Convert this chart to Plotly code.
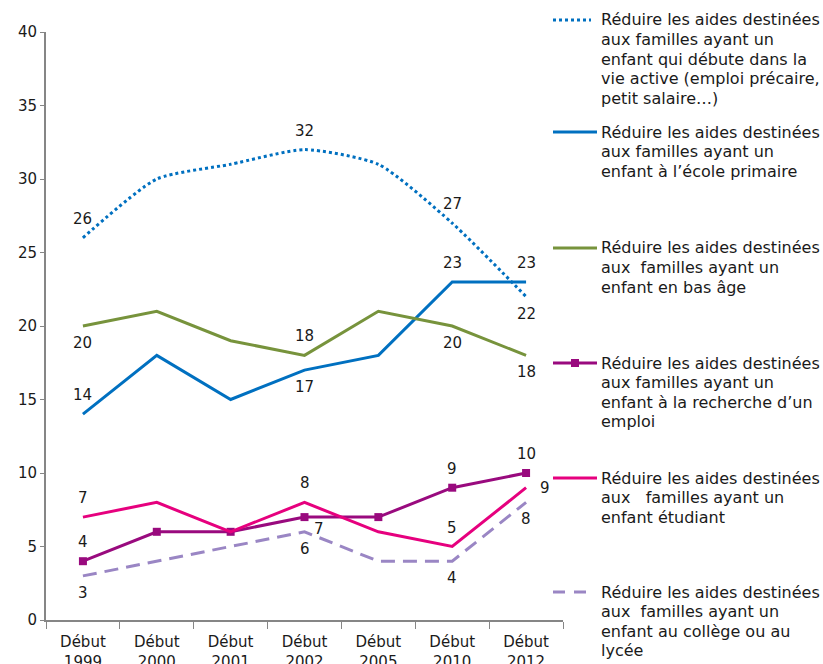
import plotly.graph_objects as go

categories = ["Début<br>1999", "Début<br>2000", "Début<br>2001", "Début<br>2002",
              "Début<br>2005", "Début<br>2010", "Début<br>2012"]

vie_active = [26, 30, 31, 32, 31, 27, 22]
ecole_primaire = [14, 18, 15, 17, 18, 23, 23]
bas_age = [20, 21, 19, 18, 21, 20, 18]
recherche_emploi = [4, 6, 6, 7, 7, 9, 10]
etudiant = [7, 8, 6, 8, 6, 5, 9]
college_lycee = [3, 4, 5, 6, 4, 4, 8]

y_ticks = [0, 5, 10, 15, 20, 25, 30, 35, 40]

names = [
    ["Réduire les aides destinées", "aux familles ayant un", "enfant qui débute dans la",
     "vie active (emploi précaire,", "petit salaire…)"],
    ["Réduire les aides destinées", "aux familles ayant un", "enfant à l’école primaire"],
    ["Réduire les aides destinées", "aux  familles ayant un", "enfant en bas âge"],
    ["Réduire les aides destinées", "aux familles ayant un", "enfant à la recherche d’un", "emploi"],
    ["Réduire les aides destinées", "aux   familles ayant un", "enfant étudiant"],
    ["Réduire les aides destinées", "aux  familles ayant un", "enfant au collège ou au", "lycée"],
]

# which points are labelled, and where (a = above, b = below, r = right, br = below-right)
labels_vie = {0: "a", 3: "a", 5: "a", 6: "b"}
labels_ecole = {0: "a", 3: "b", 5: "a", 6: "a"}
labels_bas = {0: "b", 3: "a", 5: "b", 6: "b"}
labels_rech = {0: "a", 3: "br", 5: "a", 6: "a"}
labels_etud = {0: "a", 3: "a", 5: "a", 6: "r"}
labels_coll = {0: "b", 3: "b", 5: "b", 6: "b"}

BLUE = "#0070C0"
GREEN = "#77933C"
PURPLE = "#990A7E"
PINK = "#E6007E"
LAV = "#9A86C4"
TXT = "#1a1a1a"
FONT = "DejaVu Sans"

series = [
    (vie_active, dict(color=BLUE, width=3, dash="dot", shape="spline", smoothing=0.6), None, labels_vie),
    (ecole_primaire, dict(color=BLUE, width=3), None, labels_ecole),
    (bas_age, dict(color=GREEN, width=3), None, labels_bas),
    (recherche_emploi, dict(color=PURPLE, width=3), dict(symbol="square", size=8, color=PURPLE), labels_rech),
    (etudiant, dict(color=PINK, width=3), None, labels_etud),
    (college_lycee, dict(color=LAV, width=3, dash="14px,8px"), None, labels_coll),
]

W, H = 823, 664
L0, L1 = 46, 563
T0, T1 = 620, 32

fig = go.Figure()
annotations = []
shift = {"a": (0, 19), "b": (0, -17), "r": (19, 0), "br": (14, -12)}
for vals, line, marker, labs in series:
    fig.add_trace(go.Scatter(
        x=categories, y=vals, mode="lines+markers" if marker else "lines",
        line=line, marker=marker, showlegend=False, hoverinfo="skip"))
    for i, pos in labs.items():
        dx, dy = shift[pos]
        annotations.append(dict(
            x=categories[i], y=vals[i], xref="x", yref="y", text=str(vals[i]),
            showarrow=False, xshift=dx, yshift=dy,
            font=dict(family=FONT, size=15, color=TXT)))

def px(xp):
    return (xp - L0) / (L1 - L0)

def py(yp):
    return (T0 - yp) / (T0 - T1)

legend_rows = [20, 132, 248, 363, 478, 592]
LINE_H = 19.6
shapes = []
for k, (vals, line, marker, labs) in enumerate(series):
    yc = legend_rows[k]
    dash = line.get("dash", "solid")
    if dash == "dot":
        x0, x1, d = 553, 591, "dot"
    elif dash == "solid":
        x0, x1, d = 553, 597, "solid"
    else:
        x0, x1, d = 553, 591, "12px,9px"
    shapes.append(dict(type="line", xref="paper", yref="paper",
                       x0=px(x0), x1=px(x1), y0=py(yc), y1=py(yc),
                       line=dict(color=line["color"], width=3, dash=d)))
    if marker:
        shapes.append(dict(type="rect", xref="paper", yref="paper",
                           x0=px(571), x1=px(579), y0=py(yc - 4), y1=py(yc + 4),
                           fillcolor=marker["color"], line=dict(width=0)))
    for j, txt in enumerate(names[k]):
        annotations.append(dict(
            x=px(599), y=py(yc + j * LINE_H), xref="paper", yref="paper",
            xanchor="left", yanchor="middle", align="left", showarrow=False,
            text=txt.replace("  ", "\u00a0\u00a0"),
            font=dict(family=FONT, size=16, color=TXT)))

fig.update_layout(
    width=W, height=H,
    margin=dict(l=L0, r=W - L1, t=T1, b=H - T0, autoexpand=False),
    plot_bgcolor="white", paper_bgcolor="white",
    font=dict(family=FONT, size=15, color=TXT),
    xaxis=dict(type="category", showgrid=False, showline=True, linecolor="#868686", linewidth=2,
               ticks="outside", tickson="boundaries", ticklen=7, tickcolor="#868686",
               ticklabelstandoff=7,
               tickfont=dict(size=15, color=TXT), range=[-0.5, 6.5]),
    yaxis=dict(range=[0, 40], tickvals=y_ticks, showgrid=False, showline=True, linecolor="#868686",
               linewidth=2, ticks="outside", ticklen=4, tickcolor="#868686", zeroline=False,
               tickfont=dict(size=15, color=TXT)),
    annotations=annotations, shapes=shapes,
)

fig.write_html("out.html", config={"displayModeBar": False},
               post_script="document.body.style.margin='0';document.body.style.overflow='hidden';")
